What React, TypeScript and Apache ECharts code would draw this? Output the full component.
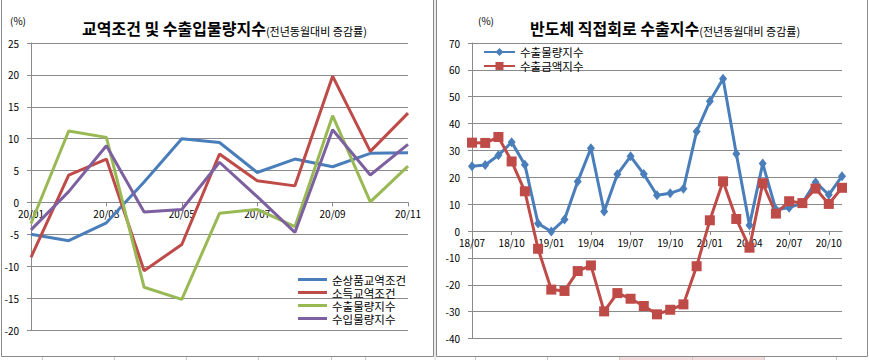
import React, { useEffect, useRef } from "react";
import * as echarts from "echarts";

const FONT = "'Noto Sans CJK KR', 'Noto Sans', sans-serif";

// Left chart: 교역조건 및 수출입물량지수
const leftCategories = ["20/01", "20/02", "20/03", "20/04", "20/05", "20/06", "20/07", "20/08", "20/09", "20/10", "20/11"];
const netTermsOfTrade = [-5.0, -6.0, -3.2, 3.2, 10.0, 9.4, 4.7, 6.8, 5.6, 7.7, 7.8];
const incomeTermsOfTrade = [-8.6, 4.3, 6.8, -10.7, -6.6, 7.6, 3.4, 2.6, 19.8, 8.0, 14.0];
const exportVolume = [-3.3, 11.2, 10.2, -13.3, -15.2, -1.7, -1.1, -3.8, 13.6, 0.1, 5.7];
const importVolume = [-4.3, 1.7, 8.9, -1.5, -1.1, 6.3, 0.9, -4.7, 11.4, 4.3, 9.1];
const leftNames = ["순상품교역조건", "소득교역조건", "수출물량지수", "수입물량지수"];
const leftColors = ["#4a7ebb", "#be4b48", "#98b954", "#7d60a0"];
const leftMin = -20;
const leftMax = 25;
const leftInterval = 5;

// Right chart: 반도체 직접회로 수출지수
const rightCategories = [
  "18/07", "18/08", "18/09", "18/10", "18/11", "18/12",
  "19/01", "19/02", "19/03", "19/04", "19/05", "19/06",
  "19/07", "19/08", "19/09", "19/10", "19/11", "19/12",
  "20/01", "20/02", "20/03", "20/04", "20/05", "20/06",
  "20/07", "20/08", "20/09", "20/10", "20/11",
];
const chipVolume = [24.1, 24.6, 28.2, 33.1, 24.7, 2.8, -0.2, 4.3, 18.4, 30.8, 7.3, 21.1, 27.8, 21.2, 13.3, 14.1, 15.7, 37.1, 48.3, 56.7, 28.8, 2.2, 25.1, 8.0, 8.7, 10.4, 18.2, 13.5, 20.4];
const chipValue = [32.9, 32.8, 35.0, 25.9, 14.8, -6.6, -21.8, -22.3, -14.9, -12.8, -29.9, -23.1, -25.2, -27.9, -31.0, -29.3, -27.3, -13.1, 4.0, 18.5, 4.5, -6.2, 17.8, 6.5, 11.1, 10.4, 15.8, 10.1, 16.1];
const rightNames = ["수출물량지수", "수출금액지수"];
const rightIds = ["chipVolume", "chipValue"];
const rightColors = ["#4a7ebb", "#be4b48"];
const rightMin = -40;
const rightMax = 70;
const rightInterval = 10;

const GRID_COLOR = "#8a8a8a";

const LEFT_GRID = { left: 31, top: 43, width: 377, height: 287 };
const RIGHT_GRID = { left: 472, top: 43, width: 370, height: 295.5 };

export default function App() {
  const ref = useRef<HTMLDivElement>(null);

  useEffect(() => {
    if (!ref.current) return;
    const chart = echarts.init(ref.current, null, { renderer: "svg" });

    const valueAxisCommon = {
      type: "value" as const,
      axisLine: { show: true, lineStyle: { color: GRID_COLOR, width: 1 } },
      axisTick: { show: true, length: 4, lineStyle: { color: GRID_COLOR } },
      splitLine: { show: true, lineStyle: { color: GRID_COLOR, width: 1 } },
      axisLabel: { fontSize: 10, color: "#000", fontFamily: FONT, margin: 12 },
    };
    const catAxisCommon = {
      type: "category" as const,
      boundaryGap: false,
      position: "bottom" as const,
      axisLine: { show: true, onZero: false, lineStyle: { color: GRID_COLOR, width: 1 } },
      splitLine: { show: false },
    };

    // place the category axis on the zero line (distance from the grid bottom)
    const leftZeroOffset = -(LEFT_GRID.height * (0 - leftMin)) / (leftMax - leftMin);
    const rightZeroOffset = -(RIGHT_GRID.height * (0 - rightMin)) / (rightMax - rightMin);

    const nameMap: Record<string, string> = {};
    rightIds.forEach((id, i) => (nameMap[id] = rightNames[i]));

    const titleRich = {
      a: { fontSize: 16, fontWeight: "bold", fontFamily: FONT, color: "#000", verticalAlign: "bottom", lineHeight: 22 },
      b: { fontSize: 11, fontWeight: "normal", fontFamily: FONT, color: "#000", verticalAlign: "bottom", lineHeight: 20 },
    };

    const option: any = {
      animation: false,
      backgroundColor: "#ffffff",
      title: [
        {
          left: 77,
          top: 9,
          text: "{a|교역조건 및 수출입물량지수}{b|(전년동월대비 증감률)}",
          textStyle: { rich: titleRich },
        },
        {
          left: 525,
          top: 9,
          text: "{a|반도체 직접회로 수출지수}{b|(전년동월대비 증감률)}",
          textStyle: { rich: titleRich },
        },
      ],
      legend: [
        {
          orient: "vertical",
          left: 293,
          top: 268,
          icon: "rect",
          itemWidth: 29,
          itemHeight: 3,
          itemGap: 0,
          data: leftNames,
          textStyle: { fontSize: 11.5, lineHeight: 13, fontFamily: FONT, color: "#000" },
        },
        {
          orient: "vertical",
          left: 478,
          top: 40,
          itemWidth: 31,
          itemHeight: 10,
          itemGap: 0,
          data: rightIds,
          formatter: (name: string) => nameMap[name] || name,
          textStyle: { fontSize: 11.5, lineHeight: 14, fontFamily: FONT, color: "#000" },
        },
      ],
      grid: [
        { ...LEFT_GRID, containLabel: false },
        { ...RIGHT_GRID, containLabel: false },
      ],
      xAxis: [
        {
          ...catAxisCommon,
          gridIndex: 0,
          offset: leftZeroOffset,
          data: leftCategories,
          axisTick: { show: true, interval: 1, length: 4, lineStyle: { color: GRID_COLOR } },
          axisLabel: { interval: 1, fontSize: 10, color: "#000", fontFamily: FONT, margin: 6 },
        },
        {
          ...catAxisCommon,
          gridIndex: 1,
          offset: rightZeroOffset,
          data: rightCategories,
          axisTick: { show: true, interval: 2, length: 4, lineStyle: { color: GRID_COLOR } },
          axisLabel: { interval: 2, fontSize: 10, color: "#000", fontFamily: FONT, margin: 6 },
        },
      ],
      yAxis: [
        { ...valueAxisCommon, gridIndex: 0, min: leftMin, max: leftMax, interval: leftInterval },
        { ...valueAxisCommon, gridIndex: 1, min: rightMin, max: rightMax, interval: rightInterval },
      ],
      series: [
        ...[netTermsOfTrade, incomeTermsOfTrade, exportVolume, importVolume].map((d, i) => ({
          name: leftNames[i],
          type: "line",
          xAxisIndex: 0,
          yAxisIndex: 0,
          data: d,
          symbol: "none",
          color: leftColors[i],
          itemStyle: { color: leftColors[i] },
          lineStyle: { width: 3, color: leftColors[i] },
        })),
        {
          name: rightIds[0],
          type: "line",
          xAxisIndex: 1,
          yAxisIndex: 1,
          data: chipVolume,
          symbol: "diamond",
          symbolSize: [8, 10],
          showAllSymbol: true,
          color: rightColors[0],
          itemStyle: { color: rightColors[0] },
          lineStyle: { width: 3, color: rightColors[0] },
        },
        {
          name: rightIds[1],
          type: "line",
          xAxisIndex: 1,
          yAxisIndex: 1,
          data: chipValue,
          symbol: "rect",
          symbolSize: 10,
          showAllSymbol: true,
          color: rightColors[1],
          itemStyle: { color: rightColors[1] },
          lineStyle: { width: 3, color: rightColors[1] },
        },
      ],
      graphic: [
        // spreadsheet background lines
        { type: "line", silent: true, shape: { x1: 435, y1: 0, x2: 435, y2: 360 }, style: { stroke: "#d4d4d4", lineWidth: 1 } },
        { type: "rect", silent: true, shape: { x: 619, y: 357, width: 145, height: 3 }, style: { fill: "#f2dcdb" } },
        ...[42, 114, 186, 258, 331, 365, 475, 547, 619, 692, 764, 836].map((x) => ({
          type: "line",
          silent: true,
          shape: { x1: x + 0.5, y1: 357, x2: x + 0.5, y2: 360 },
          style: { stroke: "#c8c8c8", lineWidth: 1 },
        })),
        // chart frames
        { type: "rect", silent: true, shape: { x: 1.5, y: -2, width: 432, height: 358.5 }, style: { fill: "none", stroke: "#8a8a8a", lineWidth: 1 } },
        { type: "rect", silent: true, shape: { x: 436.5, y: -2, width: 431, height: 358.5 }, style: { fill: "none", stroke: "#8a8a8a", lineWidth: 1 } },
        // unit labels
        { type: "text", silent: true, x: 10, y: 20, style: { text: "(%)", fontSize: 10, fontFamily: FONT, fill: "#000", verticalAlign: "middle" } },
        { type: "text", silent: true, x: 478, y: 20, style: { text: "(%)", fontSize: 10, fontFamily: FONT, fill: "#000", verticalAlign: "middle" } },
      ],
    };

    chart.setOption(option);
    return () => chart.dispose();
  }, []);

  return (
    <div
      ref={ref}
      style={{ position: "absolute", left: 0, top: 0, width: 869, height: 360, background: "#fff" }}
    />
  );
}
